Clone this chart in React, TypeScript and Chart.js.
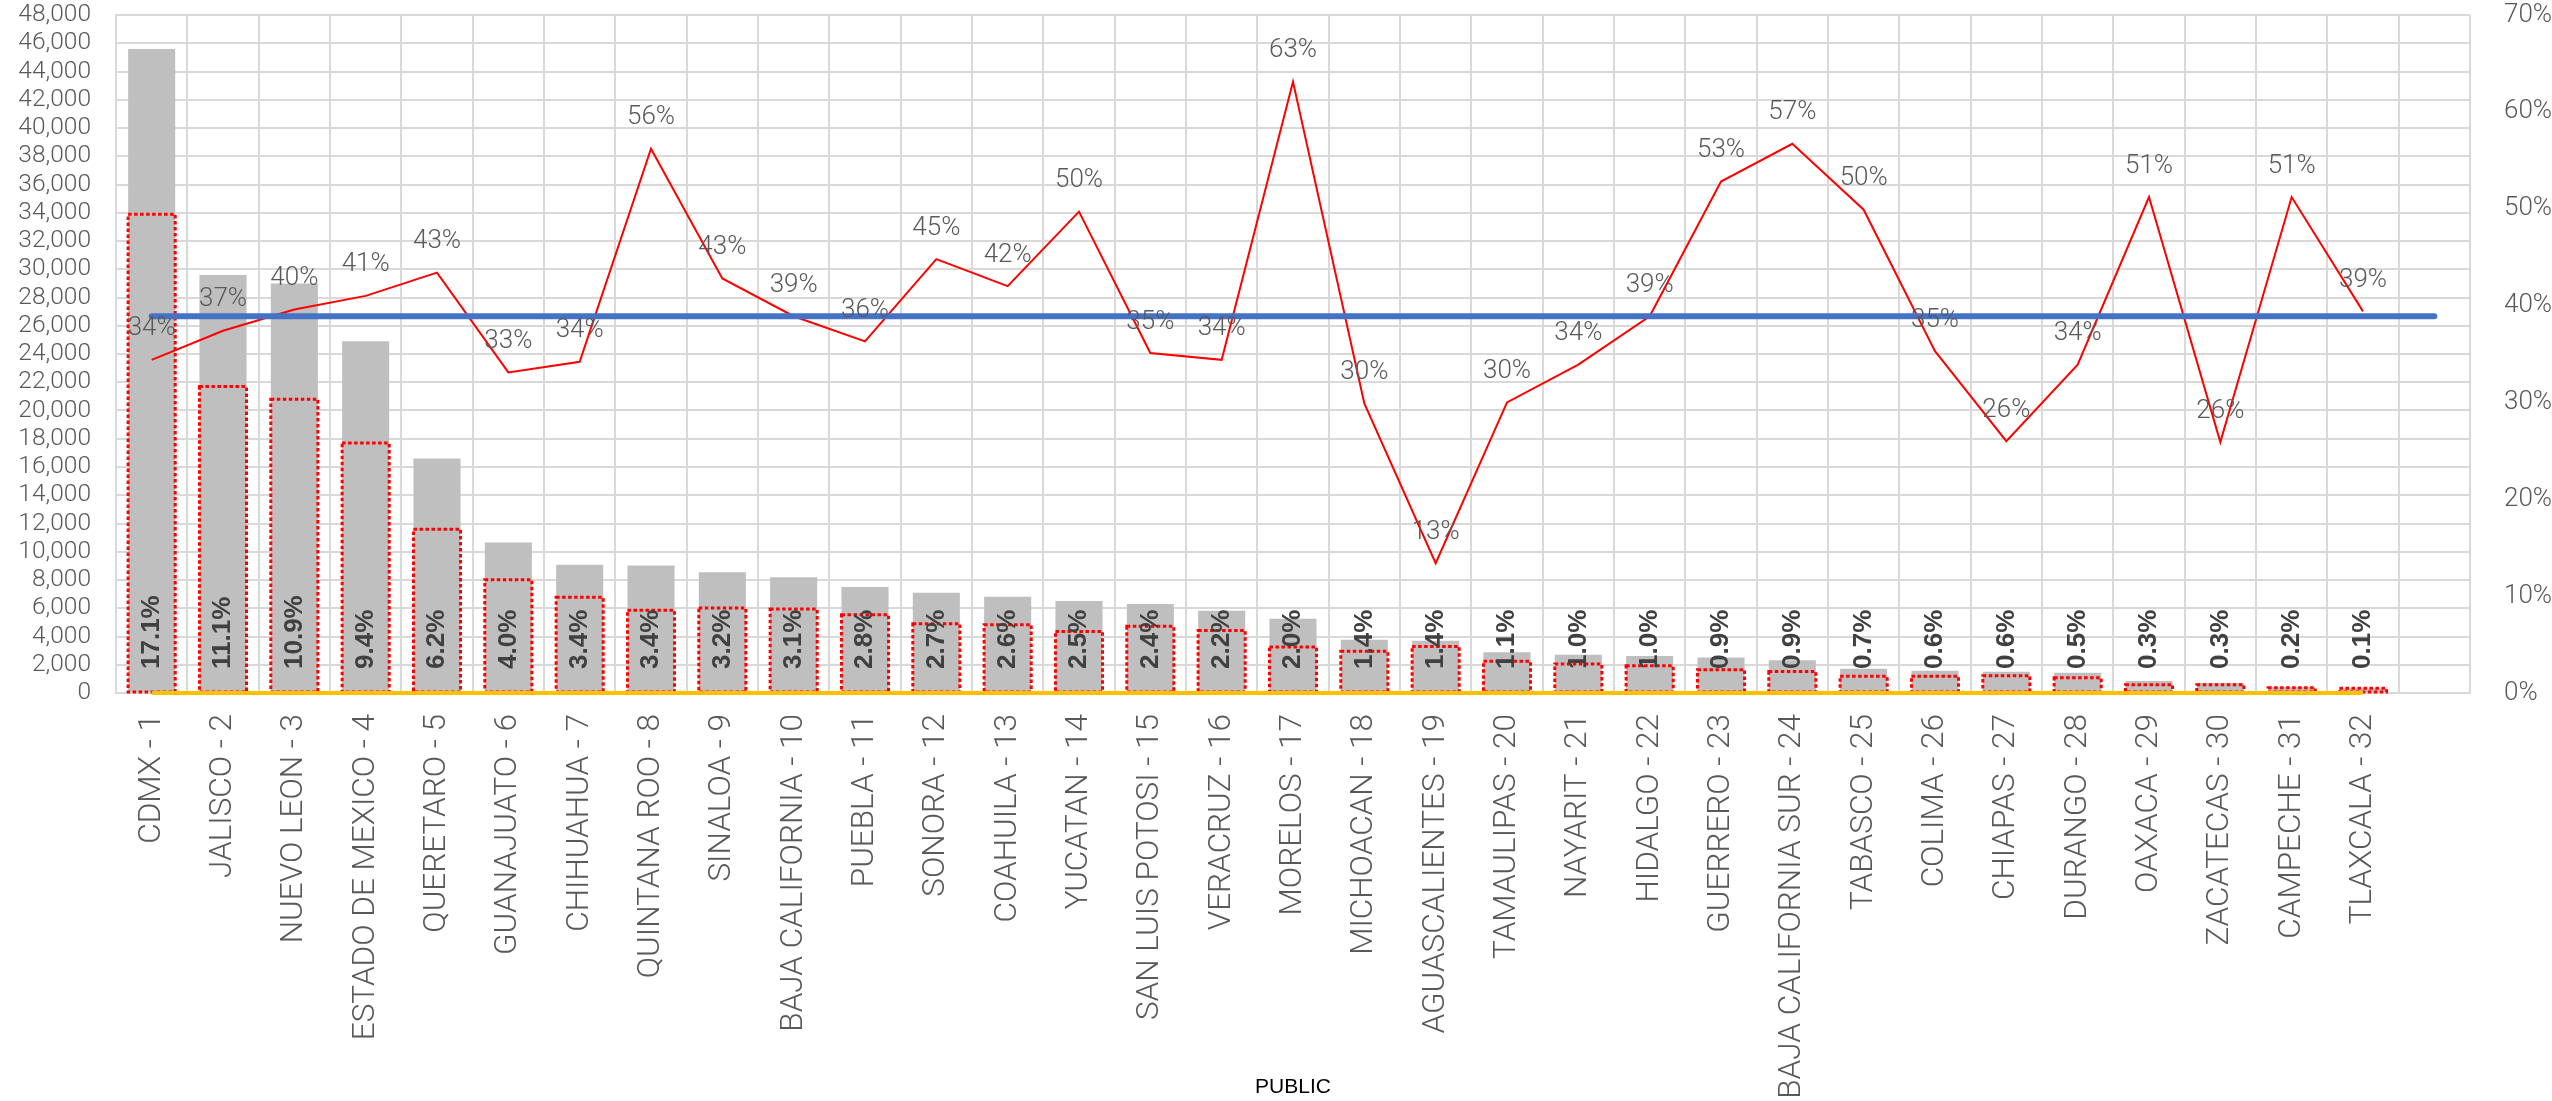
import React, { useEffect, useRef } from 'react';
import { Chart, registerables } from 'chart.js';

Chart.register(...registerables);

const categories = [
  'CDMX - 1', 'JALISCO - 2', 'NUEVO LEON - 3', 'ESTADO DE MEXICO - 4', 'QUERETARO - 5',
  'GUANAJUATO - 6', 'CHIHUAHUA - 7', 'QUINTANA ROO - 8', 'SINALOA - 9', 'BAJA CALIFORNIA - 10',
  'PUEBLA - 11', 'SONORA - 12', 'COAHUILA - 13', 'YUCATAN - 14', 'SAN LUIS POTOSI - 15',
  'VERACRUZ - 16', 'MORELOS - 17', 'MICHOACAN - 18', 'AGUASCALIENTES - 19', 'TAMAULIPAS - 20',
  'NAYARIT - 21', 'HIDALGO - 22', 'GUERRERO - 23', 'BAJA CALIFORNIA SUR - 24', 'TABASCO - 25',
  'COLIMA - 26', 'CHIAPAS - 27', 'DURANGO - 28', 'OAXACA - 29', 'ZACATECAS - 30',
  'CAMPECHE - 31', 'TLAXCALA - 32', '',
];

const totalValues = [
  45600, 29600, 29000, 24900, 16600, 10660, 9080, 9030, 8540, 8190,
  7500, 7100, 6820, 6510, 6300, 5830, 5260, 3770, 3700, 2880,
  2710, 2620, 2520, 2310, 1720, 1580, 1510, 1440, 850, 710,
  420, 330,
];

const subsetValues = [
  33900, 21700, 20800, 17700, 11600, 8020, 6770, 5850, 6020, 5950,
  5540, 4910, 4840, 4360, 4720, 4430, 3260, 2950, 3300, 2240,
  2050, 1930, 1650, 1530, 1180, 1180, 1230, 1080, 590, 590,
  380, 330,
];

const shareLabels = [
  '17.1%', '11.1%', '10.9%', '9.4%', '6.2%', '4.0%', '3.4%', '3.4%', '3.2%', '3.1%',
  '2.8%', '2.7%', '2.6%', '2.5%', '2.4%', '2.2%', '2.0%', '1.4%', '1.4%', '1.1%',
  '1.0%', '1.0%', '0.9%', '0.9%', '0.7%', '0.6%', '0.6%', '0.5%', '0.3%', '0.3%',
  '0.2%', '0.1%',
];

const rateValues = [
  0.344, 0.374, 0.396, 0.410, 0.434, 0.331, 0.342, 0.562, 0.428, 0.389,
  0.363, 0.448, 0.420, 0.497, 0.351, 0.344, 0.631, 0.299, 0.134, 0.300,
  0.339, 0.389, 0.528, 0.567, 0.499, 0.353, 0.260, 0.339, 0.512, 0.259,
  0.512, 0.394,
];

const averageLine = [
  0.389, 0.389, 0.389, 0.389, 0.389, 0.389, 0.389, 0.389, 0.389, 0.389,
  0.389, 0.389, 0.389, 0.389, 0.389, 0.389, 0.389, 0.389, 0.389, 0.389,
  0.389, 0.389, 0.389, 0.389, 0.389, 0.389, 0.389, 0.389, 0.389, 0.389,
  0.389, 0.389, 0.389,
];

const baseLine = [
  0, 0, 0, 0, 0, 0, 0, 0, 0, 0,
  0, 0, 0, 0, 0, 0, 0, 0, 0, 0,
  0, 0, 0, 0, 0, 0, 0, 0, 0, 0,
  0, 0,
];

const GRID = '#D9D9D9';
const TEXT = '#595959';

const outlinePlugin = {
  id: 'dottedOutline',
  afterDatasetDraw(chart: any, args: any) {
    const ds = chart.data.datasets[args.index];
    if (ds.label !== 'subset') return;
    const ctx = chart.ctx;
    ctx.save();
    ctx.strokeStyle = '#FF0000';
    ctx.lineWidth = 3;
    ctx.setLineDash([3.5, 2.5]);
    args.meta.data.forEach((el: any) => {
      const p = el.getProps(['x', 'y', 'base', 'width'], true);
      ctx.strokeRect(p.x - p.width / 2, p.y, p.width, p.base - p.y);
    });
    ctx.restore();
  },
};

const labelPlugin = {
  id: 'valueLabels',
  afterDatasetsDraw(chart: any) {
    const ctx = chart.ctx;
    const yScale = chart.scales.y;
    const base = yScale.getPixelForValue(0);
    chart.data.datasets.forEach((ds: any, i: number) => {
      const meta = chart.getDatasetMeta(i);
      if (ds.label === 'total') {
        ctx.save();
        ctx.fillStyle = '#404040';
        ctx.font = 'bold 26px "Liberation Sans", Arial, sans-serif';
        ctx.textAlign = 'left';
        ctx.textBaseline = 'middle';
        meta.data.forEach((el: any, j: number) => {
          ctx.save();
          ctx.translate(el.x, base - 24);
          ctx.rotate(-Math.PI / 2);
          ctx.fillText(shareLabels[j], 0, 0);
          ctx.restore();
        });
        ctx.restore();
      }
      if (ds.label === 'rate') {
        ctx.save();
        ctx.fillStyle = TEXT;
        ctx.font = '300 26px Roboto, sans-serif';
        ctx.textAlign = 'center';
        ctx.textBaseline = 'middle';
        meta.data.forEach((el: any, j: number) => {
          ctx.fillText(Math.round(rateValues[j] * 100) + '%', el.x, el.y - 31);
        });
        ctx.restore();
      }
    });
  },
};

const fixVertical = (width: number) => (s: any) => {
  s.width = width;
  s.paddingTop = 0;
  s.paddingBottom = 0;
};

export default function App() {
  const ref = useRef<HTMLCanvasElement>(null);

  useEffect(() => {
    document.body.style.margin = '0';
    const canvas = ref.current;
    if (!canvas) return;
    const chart = new Chart(canvas, {
      type: 'bar',
      data: {
        labels: categories,
        datasets: [
          {
            type: 'line',
            label: 'average',
            data: averageLine,
            yAxisID: 'y2',
            borderColor: '#4472C4',
            borderWidth: 6,
            borderCapStyle: 'round',
            pointRadius: 0,
            order: 1,
          } as any,
          {
            type: 'line',
            label: 'rate',
            data: rateValues,
            yAxisID: 'y2',
            borderColor: '#FF0000',
            borderWidth: 2,
            pointRadius: 0,
            tension: 0,
            order: 2,
          } as any,
          {
            type: 'line',
            label: 'base',
            data: baseLine,
            yAxisID: 'y',
            borderColor: '#FFC000',
            borderWidth: 4,
            pointRadius: 0,
            clip: false,
            order: 3,
          } as any,
          {
            type: 'bar',
            label: 'subset',
            data: subsetValues,
            yAxisID: 'y',
            backgroundColor: 'rgba(0,0,0,0)',
            borderWidth: 0,
            grouped: false,
            barPercentage: 0.66,
            categoryPercentage: 1,
            order: 4,
          } as any,
          {
            type: 'bar',
            label: 'total',
            data: totalValues,
            yAxisID: 'y',
            backgroundColor: '#BFBFBF',
            borderWidth: 0,
            grouped: false,
            barPercentage: 0.66,
            categoryPercentage: 1,
            order: 5,
          } as any,
        ],
      },
      options: {
        responsive: false,
        animation: false,
        devicePixelRatio: 1,
        layout: { padding: { top: 15, left: 0, right: 0, bottom: 0 } },
        plugins: {
          legend: { display: false },
          tooltip: { enabled: false },
          title: { display: false },
        },
        scales: {
          x: {
            type: 'category',
            offset: true,
            grid: { color: GRID, lineWidth: 2, drawTicks: false, offset: true },
            border: { color: GRID, width: 2 },
            ticks: {
              autoSkip: false,
              minRotation: 90,
              maxRotation: 90,
              padding: 21,
              color: TEXT,
              font: { family: 'Roboto', size: 31.5, weight: '300' },
            },
            title: {
              display: true,
              text: 'PUBLIC',
              color: '#000000',
              font: { family: '"Liberation Sans", Arial', size: 21 },
              padding: { top: 0, bottom: 1 },
            },
            afterFit: (s: any) => {
              s.height = 408;
              s.paddingTop = 0;
              s.paddingBottom = 0;
            },
          },
          y: {
            position: 'left',
            min: 0,
            max: 48000,
            grid: { color: GRID, lineWidth: 2, drawTicks: false },
            border: { color: GRID, width: 2 },
            ticks: {
              stepSize: 2000,
              autoSkip: false,
              maxTicksLimit: 100,
              padding: 25,
              color: TEXT,
              font: { family: 'Roboto', size: 24.5, weight: '300' },
              callback: (v: any) => Number(v).toLocaleString('en-US'),
            },
            afterFit: fixVertical(116),
          },
          y2: {
            position: 'right',
            min: 0,
            max: 0.7,
            grid: { display: false, drawTicks: false },
            border: { display: false },
            ticks: {
              stepSize: 0.1,
              autoSkip: false,
              padding: 34,
              color: TEXT,
              font: { family: 'Roboto', size: 26, weight: '300' },
              callback: (v: any) => Math.round(Number(v) * 100) + '%',
            },
            afterFit: fixVertical(82),
          },
        },
      } as any,
      plugins: [outlinePlugin, labelPlugin],
    });
    return () => chart.destroy();
  }, []);

  return (
    <div style={{ width: 2552, height: 1101 }}>
      <canvas ref={ref} width={2552} height={1101} style={{ display: 'block' }} />
    </div>
  );
}
